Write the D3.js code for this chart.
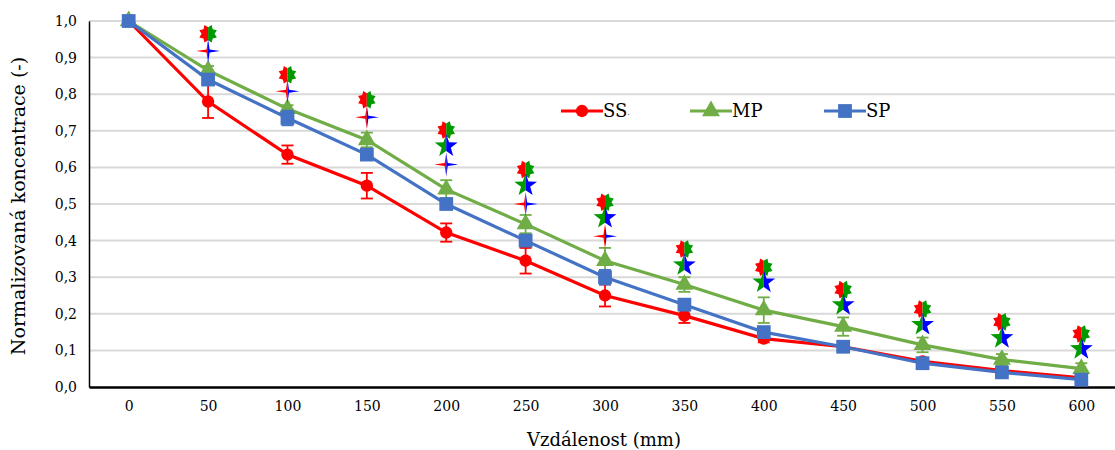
<!DOCTYPE html>
<html>
<head>
<meta charset="utf-8">
<script src="https://cdn.jsdelivr.net/npm/d3@7"></script>
<style>
  body { margin: 0; background: #fff; }
</style>
</head>
<body>
<div id="chart"></div>
<script>
// Categories (distance, mm)
const distances = ["0", "50", "100", "150", "200", "250", "300", "350", "400", "450", "500", "550", "600"];
const yTicks = [0, 0.1, 0.2, 0.3, 0.4, 0.5, 0.6, 0.7, 0.8, 0.9, 1.0];

// Series values and error (+/-)
const ssValues = [1.0, 0.78, 0.635, 0.55, 0.422, 0.345, 0.25, 0.195, 0.132, 0.11, 0.07, 0.045, 0.025];
const ssErrors = [0, 0.045, 0.025, 0.035, 0.025, 0.035, 0.03, 0.02, 0.01, 0.01, 0.008, 0.008, 0.006];
const mpValues = [1.0, 0.865, 0.76, 0.675, 0.54, 0.445, 0.345, 0.28, 0.21, 0.165, 0.115, 0.075, 0.05];
const mpErrors = [0, 0.012, 0.01, 0.02, 0.025, 0.025, 0.035, 0.02, 0.035, 0.025, 0.02, 0.015, 0.015];
const spValues = [1.0, 0.84, 0.735, 0.635, 0.5, 0.4, 0.3, 0.225, 0.15, 0.11, 0.065, 0.04, 0.02];
const spErrors = [0, 0.01, 0.02, 0.01, 0.01, 0.01, 0.02, 0.015, 0.01, 0.01, 0.01, 0.008, 0.006];

// Significance markers (null = none)
const markRG = [null, 0.965, 0.853, 0.785, 0.702, 0.594, 0.505, 0.377, 0.327, 0.266, 0.213, 0.178, 0.145];
const markGB = [null, null, null, null, 0.658, 0.551, 0.462, 0.333, 0.286, 0.224, 0.17, 0.134, 0.104];
const markRB = [null, 0.918, 0.808, 0.737, 0.608, 0.5, 0.412, null, null, null, null, null, null];

const width = 1115, height = 450;
const margin = { top: 21, right: -6, bottom: 63, left: 89 };
const chartWidth = width - margin.left - margin.right;
const chartHeight = height - margin.top - margin.bottom;
const serif = "'DejaVu Serif', 'Liberation Serif', serif";

const svg = d3.select("#chart").append("svg")
  .attr("width", width)
  .attr("height", height)
  .style("display", "block");

const defs = svg.append("defs");
defs.append("clipPath").attr("id", "leftHalf")
  .append("rect").attr("x", -20).attr("y", -20).attr("width", 20).attr("height", 40);
defs.append("clipPath").attr("id", "rightHalf")
  .append("rect").attr("x", 0).attr("y", -20).attr("width", 20).attr("height", 40);

const g = svg.append("g")
  .attr("transform", `translate(${margin.left}, ${margin.top})`);

const x = d3.scalePoint()
  .domain(distances)
  .range([0, chartWidth])
  .padding(0.5);

const y = d3.scaleLinear()
  .domain([0, 1])
  .range([chartHeight, 0]);

// Gridlines
g.append("g").selectAll("line")
  .data(yTicks.slice(1))
  .enter().append("line")
  .attr("x1", 0).attr("x2", chartWidth)
  .attr("y1", d => y(d)).attr("y2", d => y(d))
  .attr("stroke", "#d9d9d9")
  .attr("stroke-width", 2);

// Axes
const yAxis = g.append("g")
  .call(d3.axisLeft(y).tickValues(yTicks).tickSize(0).tickPadding(12)
    .tickFormat(d => d3.format(".1f")(d).replace(".", ",")));
yAxis.attr("font-family", null).attr("font-size", null);
yAxis.select(".domain").attr("stroke", "#000").attr("stroke-width", 1.5);
yAxis.selectAll("text").attr("fill", "#000")
  .style("font-family", serif).style("font-size", "14px");

const xAxis = g.append("g")
  .attr("transform", `translate(0, ${chartHeight})`)
  .call(d3.axisBottom(x).tickSize(0).tickPadding(14));
xAxis.attr("font-family", null).attr("font-size", null);
xAxis.select(".domain").attr("stroke", "#000").attr("stroke-width", 2.5);
xAxis.selectAll("text").attr("fill", "#000")
  .style("font-family", serif).style("font-size", "14px");

// Axis titles
svg.append("text")
  .attr("transform", `translate(25, ${margin.top + chartHeight / 2 + 2}) rotate(-90)`)
  .attr("text-anchor", "middle")
  .style("font-family", serif)
  .style("font-size", "19px")
  .text("Normalizovaná koncentrace (-)");

svg.append("text")
  .attr("x", 604).attr("y", 446)
  .attr("text-anchor", "middle")
  .style("font-family", serif)
  .style("font-size", "18px")
  .text("Vzdálenost (mm)");

const series = [
  { name: "SS", values: ssValues, errors: ssErrors, color: "#ff0000", symbol: d3.symbolCircle, size: 120 },
  { name: "MP", values: mpValues, errors: mpErrors, color: "#70ad47", symbol: d3.symbolTriangle, size: 140 },
  { name: "SP", values: spValues, errors: spErrors, color: "#4472c4", symbol: d3.symbolSquare, size: 190 }
];

const line = d3.line()
  .x((d, i) => x(distances[i]))
  .y(d => y(d));

series.forEach(s => {
  const sg = g.append("g");
  // error bars
  const eb = sg.selectAll("g.err")
    .data(s.values.map((v, i) => ({ v, e: s.errors[i], c: distances[i] })).filter(d => d.e > 0))
    .enter().append("g").attr("class", "err");
  eb.append("line")
    .attr("x1", d => x(d.c)).attr("x2", d => x(d.c))
    .attr("y1", d => y(d.v - d.e)).attr("y2", d => y(d.v + d.e))
    .attr("stroke", s.color).attr("stroke-width", 1.8);
  eb.append("line")
    .attr("x1", d => x(d.c) - 6).attr("x2", d => x(d.c) + 6)
    .attr("y1", d => y(d.v - d.e)).attr("y2", d => y(d.v - d.e))
    .attr("stroke", s.color).attr("stroke-width", 1.8);
  eb.append("line")
    .attr("x1", d => x(d.c) - 6).attr("x2", d => x(d.c) + 6)
    .attr("y1", d => y(d.v + d.e)).attr("y2", d => y(d.v + d.e))
    .attr("stroke", s.color).attr("stroke-width", 1.8);

  sg.append("path")
    .datum(s.values)
    .attr("d", line)
    .attr("fill", "none")
    .attr("stroke", s.color)
    .attr("stroke-width", 3.2);

  sg.selectAll("path.pt")
    .data(s.values)
    .enter().append("path")
    .attr("class", "pt")
    .attr("transform", (d, i) => `translate(${x(distances[i])}, ${y(d)})`)
    .attr("d", d3.symbol().type(s.symbol).size(s.size))
    .attr("fill", s.color);
});

// Star shapes
function starPath(points, outer, inner, rot) {
  const pts = [];
  for (let i = 0; i < points * 2; i++) {
    const r = i % 2 === 0 ? outer : inner;
    const a = rot + Math.PI * i / points;
    pts.push([r * Math.sin(a), -r * Math.cos(a)]);
  }
  return "M" + pts.map(p => p.join(",")).join("L") + "Z";
}

const markers = [
  { values: markRG, left: "#ff0000", right: "#009900", d: starPath(8, 9.5, 6.5, Math.PI / 8) },
  { values: markGB, left: "#009900", right: "#0000ff", d: starPath(5, 12, 4.8, 0) },
  { values: markRB, left: "#ff0000", right: "#0000ff", d: starPath(4, 12, 2.2, 0) }
];

const mg = g.append("g");
markers.forEach(m => {
  const sel = mg.selectAll(null)
    .data(m.values.map((v, i) => ({ v, c: distances[i] })).filter(d => d.v !== null))
    .enter().append("g")
    .attr("transform", d => `translate(${x(d.c)}, ${y(d.v)})`);
  sel.append("path").attr("d", m.d).attr("fill", m.left).attr("clip-path", "url(#leftHalf)");
  sel.append("path").attr("d", m.d).attr("fill", m.right).attr("clip-path", "url(#rightHalf)");
});

// Legend
const legendItems = [
  { s: series[0], x: 561, label: "SS" },
  { s: series[1], x: 690, label: "MP" },
  { s: series[2], x: 824, label: "SP" }
];
const lg = svg.append("g").attr("transform", "translate(0, 111)");
legendItems.forEach(it => {
  lg.append("line")
    .attr("x1", it.x).attr("x2", it.x + 42)
    .attr("y1", 0).attr("y2", 0)
    .attr("stroke", it.s.color).attr("stroke-width", 3.2);
  lg.append("path")
    .attr("transform", `translate(${it.x + 21}, 0)`)
    .attr("d", d3.symbol().type(it.s.symbol).size(it.s.size))
    .attr("fill", it.s.color);
  const t = lg.append("text")
    .attr("x", it.x + 42).attr("y", 6)
    .style("font-family", serif)
    .style("font-size", "18px")
    .text(it.label);
  if (it.label === "SS") t.append("tspan").style("font-size", "8px").text("·");
});
</script>
</body>
</html>
